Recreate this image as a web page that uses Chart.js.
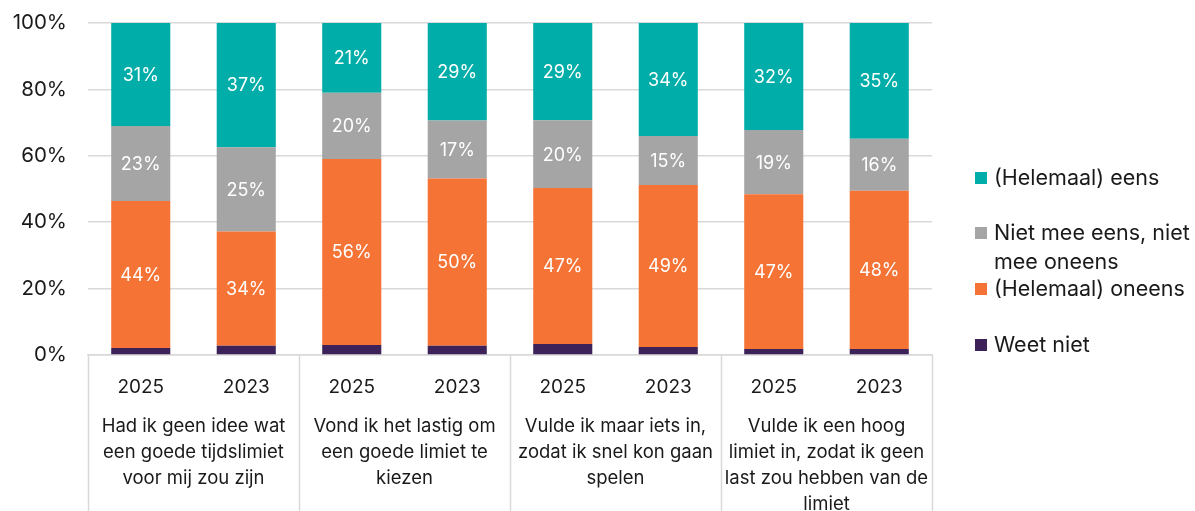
<!DOCTYPE html>
<html>
<head>
<meta charset="utf-8">
<script src="https://cdn.jsdelivr.net/npm/chart.js@4"></script>
<style>
  html, body { margin: 0; padding: 0; background: #fff; }
  #wrap { width: 1195px; height: 511px; }
</style>
</head>
<body>
<div id="wrap"><canvas id="chart" width="1195" height="511"></canvas></div>
<script>
// Data
const years = ['2025', '2023', '2025', '2023', '2025', '2023', '2025', '2023'];
const groups = [
  ['Had ik geen idee wat', 'een goede tijdslimiet', 'voor mij zou zijn'],
  ['Vond ik het lastig om', 'een goede limiet te', 'kiezen'],
  ['Vulde ik maar iets in,', 'zodat ik snel kon gaan', 'spelen'],
  ['Vulde ik een hoog', 'limiet in, zodat ik geen', 'last zou hebben van de', 'limiet']
];
const weetNiet = [2.1, 2.8, 3.0, 2.8, 3.3, 2.4, 1.8, 1.8];
const oneens = [44.3, 34.4, 56.0, 50.4, 47.0, 48.8, 46.6, 47.7];
const neutraal = [22.6, 25.4, 20.0, 17.4, 20.4, 14.8, 19.4, 15.6];
const eens = [31.0, 37.4, 21.0, 29.4, 29.3, 34.0, 32.2, 34.9];
const yTicks = [0, 20, 40, 60, 80, 100];

const FONT = 'Inter, "Noto Sans", sans-serif';
const TEXT = '#1a1a1a';
const LINE = '#d9d9d9';

const series = [
  { label: 'Weet niet', data: weetNiet, color: '#3d2159', showValues: false },
  { label: '(Helemaal) oneens', data: oneens, color: '#f47335', showValues: true },
  { label: 'Niet mee eens, niet mee oneens', data: neutraal, color: '#a5a5a5', showValues: true },
  { label: '(Helemaal) eens', data: eens, color: '#00ada8', showValues: true }
];

// legend entries, top to bottom, with hand-wrapped text
const legendItems = [
  { lines: ['(Helemaal) eens'], color: '#00ada8', y: 178 },
  { lines: ['Niet mee eens, niet', 'mee oneens'], color: '#a5a5a5', y: 233 },
  { lines: ['(Helemaal) oneens'], color: '#f47335', y: 289 },
  { lines: ['Weet niet'], color: '#3d2159', y: 345 }
];

const valueLabels = {
  id: 'valueLabels',
  afterDatasetsDraw(chart) {
    const { ctx } = chart;
    ctx.save();
    ctx.font = `18px ${FONT}`;
    ctx.fillStyle = '#ffffff';
    ctx.textAlign = 'center';
    ctx.textBaseline = 'middle';
    chart.data.datasets.forEach((ds, i) => {
      if (!series[i].showValues) return;
      chart.getDatasetMeta(i).data.forEach((bar, j) => {
        const mid = (bar.y + bar.base) / 2;
        ctx.fillText(Math.round(ds.data[j]) + '%', bar.x, mid + 1);
      });
    });
    ctx.restore();
  }
};

const groupAxis = {
  id: 'groupAxis',
  afterDraw(chart) {
    const { ctx, chartArea } = chart;
    const x = chart.scales.x;
    const step = x.getPixelForValue(1) - x.getPixelForValue(0);
    ctx.save();
    ctx.strokeStyle = LINE;
    ctx.lineWidth = 1.5;
    for (let g = 0; g <= groups.length; g++) {
      const px = Math.round(x.getPixelForValue(g * 2) - step / 2) + 0.5;
      ctx.beginPath();
      ctx.moveTo(px, chartArea.bottom);
      ctx.lineTo(px, chart.height);
      ctx.stroke();
    }
    ctx.font = `18.5px ${FONT}`;
    ctx.fillStyle = TEXT;
    ctx.textAlign = 'center';
    ctx.textBaseline = 'middle';
    groups.forEach((lines, g) => {
      const cx = (x.getPixelForValue(g * 2) + x.getPixelForValue(g * 2 + 1)) / 2;
      lines.forEach((line, k) => {
        ctx.fillText(line, cx, 426 + k * 26);
      });
    });

    // legend
    ctx.font = `21.5px ${FONT}`;
    ctx.textAlign = 'left';
    legendItems.forEach((item) => {
      ctx.fillStyle = item.color;
      ctx.fillRect(975, item.y - 6, 12, 12);
      ctx.fillStyle = TEXT;
      item.lines.forEach((line, k) => {
        ctx.fillText(line, 994, item.y + 1 + k * 29);
      });
    });
    ctx.restore();
  }
};

new Chart(document.getElementById('chart'), {
  type: 'bar',
  data: {
    labels: years,
    datasets: series.map((s) => ({
      label: s.label,
      data: s.data,
      backgroundColor: s.color,
      borderWidth: 0,
      barPercentage: 0.56,
      categoryPercentage: 1
    }))
  },
  options: {
    responsive: false,
    animation: false,
    layout: { padding: { top: 23, right: 263, left: 0, bottom: 0 } },
    plugins: {
      legend: { display: false },
      tooltip: { enabled: false }
    },
    scales: {
      x: {
        stacked: true,
        grid: { display: false },
        border: { color: LINE, width: 1.5 },
        ticks: {
          color: TEXT,
          font: { family: FONT, size: 19 },
          padding: 13,
          maxRotation: 0
        },
        afterFit(scale) {
          scale.height = 156;
          scale.paddingLeft = 0;
          scale.paddingRight = 0;
        }
      },
      y: {
        stacked: true,
        min: 0,
        max: 100,
        afterBuildTicks(scale) {
          scale.ticks = yTicks.map((v) => ({ value: v }));
        },
        grid: { color: LINE, lineWidth: 1.5, drawTicks: false },
        border: { display: false },
        ticks: {
          color: TEXT,
          font: { family: FONT, size: 20.5 },
          padding: 21,
          callback: (v) => v + '%'
        },
        afterFit(scale) {
          scale.width = 88;
          scale.paddingTop = 0;
          scale.paddingBottom = 0;
        }
      }
    }
  },
  plugins: [valueLabels, groupAxis]
});
</script>
</body>
</html>
